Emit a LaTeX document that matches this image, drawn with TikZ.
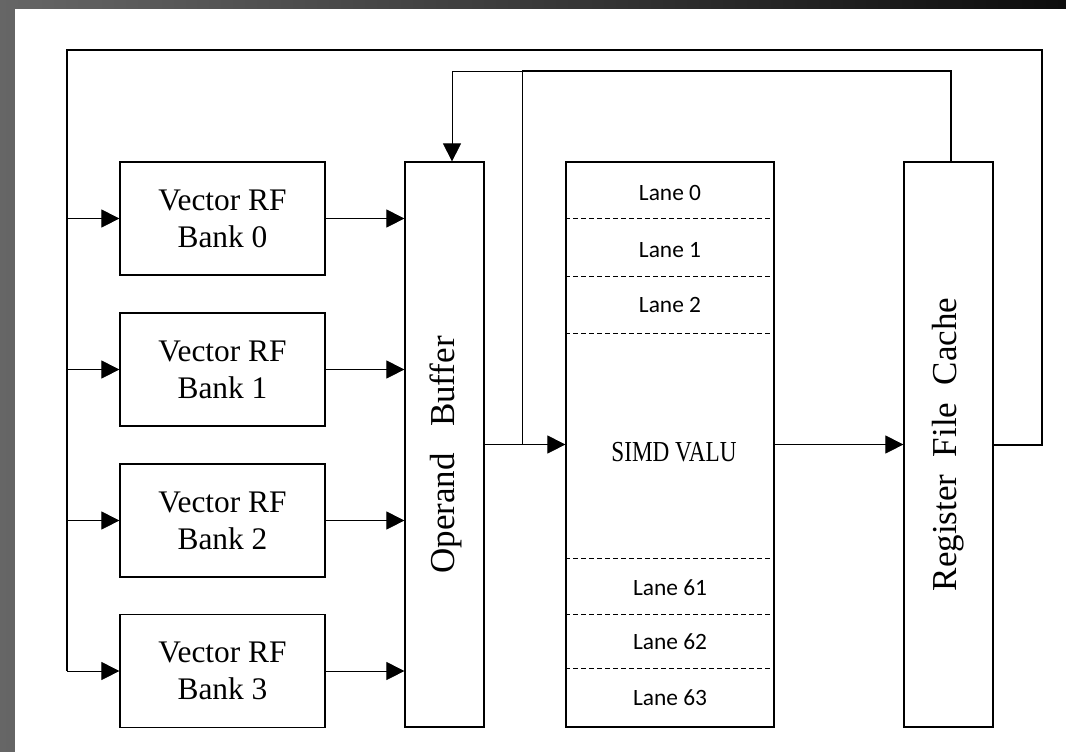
\documentclass[tikz,border=0pt]{standalone}
\usepackage{fontspec}
\setmainfont{Liberation Serif}
\newfontfamily\lanefont{Carlito}
\usetikzlibrary{arrows.meta}

\tikzset{
  tri/.style={-{Triangle[length=9pt,width=9pt]}},
  box/.style={draw, line width=0.6pt, inner sep=0pt},
  bank/.style={box, minimum width=102.5pt, minimum height=56.5pt, align=center,
    font=\fontsize{15.7}{18.5}\selectfont},
  tall/.style={box, minimum height=282.5pt},
  vtext/.style={rotate=90, font=\fontsize{17.5}{20}\selectfont},
  lane/.style={font=\lanefont\fontsize{11.7}{14}\selectfont},
  bus/.style={line width=1pt},
}

\begin{document}
\begin{tikzpicture}[x=0.5pt,y=-0.5pt]
\useasboundingbox (0,0) rectangle (1066,751);
% Background
\shade[left color=black!60, right color=black!95] (0,0) rectangle (1066,751);
\fill[white] (15,9) rectangle (1070,755);

% Register banks
\foreach \i/\y in {0/218.5,1/369.5,2/520.5,3/671}
    \node[bank] (bank\i) at (222.5,\y) {Vector RF\\Bank \i};

% Operand buffer
\node[tall, minimum width=39.5pt] (ob) at (444.5,444.5) {};
\node[vtext] (obtext) at (446,455) {Operand\hspace{0.75em}Buffer};

% SIMD VALU with lanes
\node[tall, minimum width=104pt] (valu) at (670,444.5) {};
\node[font=\fontsize{14.5}{17}\selectfont] (valutext) at (674,452) {\scalebox{0.8}[1]{SIMD VALU}};
\foreach \n/\y in {0/193,1/250,2/305,61/588,62/642,63/698}
    \node[lane] (lane\n) at (670,\y) {Lane \n};
\foreach \y in {218,276,333,558,614,668}
    \draw[dash pattern=on 2.5pt off 1.5pt, line width=0.5pt] (valu.west |- 0,\y) -- (valu.east |- 0,\y);

% Register file cache
\node[tall, minimum width=44.5pt] (rfc) at (948.5,444.5) {};
\node[vtext] (rfctext) at (rfc.center) {Register~ File~ Cache};

% Datapath
\foreach \i in {0,...,3}
    \draw[tri] (bank\i.east) -- (bank\i.east -| ob.west);
\draw[tri] (ob.east) -- (valu.west);
\draw[tri] (valu.east) -- (rfc.west);

% Write-back loop
\coordinate (wbR) at (1042,50);
\coordinate (wbL) at (67,50);
\draw[bus] (rfc.east) -| (wbR) -- (wbL) -- (wbL |- bank3.west);
\foreach \i in {0,...,3}
    \draw[tri] (wbL |- bank\i.west) -- (bank\i.west);

% Bypass to operand buffer
\coordinate (byp) at (522,444.5);
\coordinate (topL) at (452,71);
\coordinate (topR) at (951,71);
\draw (byp) -- (byp |- topR);
\draw[bus] (byp |- topR) -- (topR) -- (topR |- rfc.north);
\draw[tri] (byp |- topR) -- (topL) -- (topL |- ob.north);
\end{tikzpicture}
\end{document}
